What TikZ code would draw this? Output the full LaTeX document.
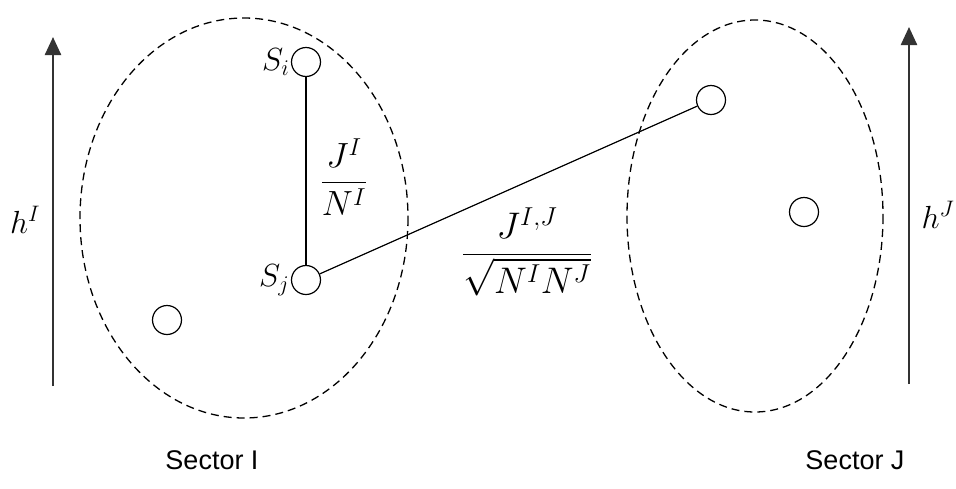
\RequirePackage{fix-cm}
\documentclass[tikz,border=0pt]{standalone}
\usepackage{amsmath}
\usepackage{fontspec}
\newfontfamily\labelfont{Liberation Sans}
\usetikzlibrary{arrows.meta,positioning}

\begin{document}
\begin{tikzpicture}[x=1pt, y=-1pt, line width=1.2pt,
  every node/.style={font=\fontsize{32}{36}\selectfont},
  spin/.style={circle, draw, minimum size=29pt, inner sep=0pt},
  sector/.style={draw, dashed, dash pattern=on 8pt off 5pt, line width=1.3pt},
  field/.style={draw=black!80, line width=2.4pt, -{Triangle[length=18pt, width=16pt]}}]
\useasboundingbox (0,0) rectangle (956,488);
% sectors
\draw[sector] (244,218) ellipse [x radius=164, y radius=200];
\draw[sector] (755,216) ellipse [x radius=128, y radius=196];
% external fields
\coordinate (hIlo) at (53,386);
\coordinate (hIhi) at (53,37);
\coordinate (hJlo) at (909,384);
\coordinate (hJhi) at (909,27);
\draw[field] (hIlo) -- (hIhi);
\draw[field] (hJlo) -- (hJhi);
\node (hI) at (25,220) {$h^I$};
\node (hJ) at (938,215) {$h^J$};
% spins
\node[spin] (si) at (306,62) {};
\node[spin] (sj) at (306,280) {};
\node[spin] (s3) at (167,320) {};
\node[spin] (s4) at (711,100) {};
\node[spin] (s5) at (804,212) {};
\node[left=0pt of si, inner sep=1pt] (lsi) {$S_i$};
\node[left=0pt of sj, inner sep=1pt] (lsj) {$S_j$};
% couplings
\draw (si) -- (sj);
\draw (sj) -- (s4);
\node[font=\fontsize{35}{40}\selectfont] (jin) at (344,177) {$\dfrac{J^I}{N^I}$};
\node[font=\fontsize{37}{42}\selectfont] (jij) at (527,252) {$\dfrac{J^{I,J}}{\sqrt{N^I N^J}}$};
% sector names
\node[font=\labelfont\fontsize{27}{32}\selectfont] (secI) at (212,460) {Sector I};
\node[font=\labelfont\fontsize{27}{32}\selectfont] (secJ) at (855,460) {Sector J};
\end{tikzpicture}
\end{document}
